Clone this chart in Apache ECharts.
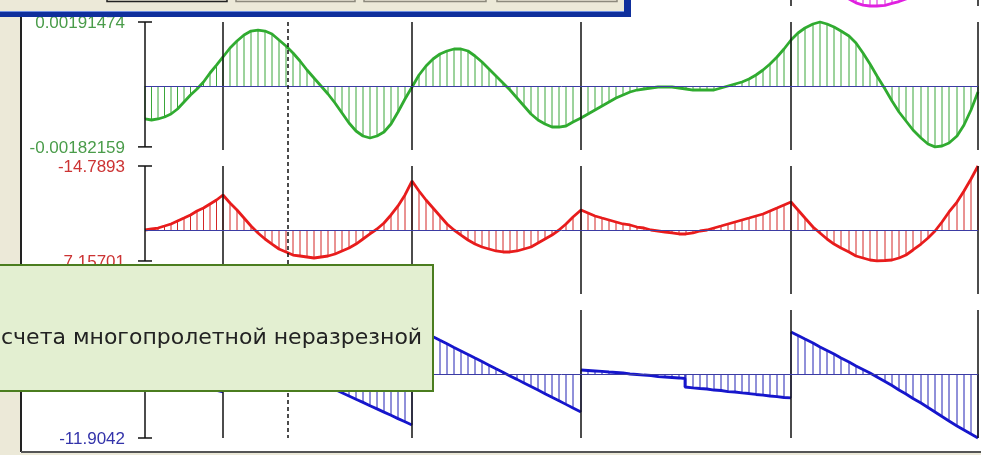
<!DOCTYPE html>
<html>
<head>
<meta charset="utf-8">
<script src="https://cdn.jsdelivr.net/npm/echarts@6/dist/echarts.min.js"></script>
<style>
  html, body { margin: 0; padding: 0; background: #fff; }
  #main { width: 981px; height: 455px; }
</style>
</head>
<body>
<div id="main"></div>
<script>
// положение опор и сечения (по длине балки)
const supports = [0, 78, 267, 436, 646, 833];
const section = 143;

// точки штриховки (общие для углов поворота и моментов)
const stations = [0, 6.5, 13, 19.5, 26, 32.5, 39, 45.5, 52, 58.5, 65, 71.5, 78,
  85, 92, 99, 106, 113, 120, 127, 134, 141, 148, 155, 162, 169, 176, 183, 190, 197, 204, 211, 218, 225, 232, 239, 246, 253, 260, 267,
  274, 281, 288, 295, 302, 309, 316, 323, 330, 337, 344, 351, 358, 365, 372, 379, 386, 393, 400, 407, 414, 421, 428, 436,
  443, 450, 457, 464, 471, 478, 485, 492, 499, 506, 513, 520, 527, 534, 541, 548, 555, 562, 569, 576, 583, 590, 597, 604, 611, 618, 625, 632, 639, 646,
  653, 660, 668, 675, 682, 689, 696, 704, 711, 718, 725, 732, 740, 747, 754, 761, 768, 776, 783, 790, 797, 804, 812, 819, 826, 833];

// углы поворота (зелёная эпюра)
const rotation = [-0.000987, -0.001017, -0.000987, -0.000927, -0.000838, -0.000688, -0.000479, -0.000269, -0.000090, 0.000120, 0.000389, 0.000628, 0.000868,
  0.001137, 0.001346, 0.001526, 0.001645, 0.001675, 0.001645, 0.001556, 0.001376, 0.001197, 0.000987, 0.000748, 0.000479, 0.000239, 0,
  -0.000239, -0.000509, -0.000808, -0.001107, -0.001346, -0.001496, -0.001556, -0.001496, -0.001376, -0.001137, -0.000778, -0.000389, -0.000030,
  0.000329, 0.000598, 0.000808, 0.000957, 0.001047, 0.001107, 0.001107, 0.001047, 0.000898, 0.000718, 0.000509, 0.000299, 0.000090,
  -0.000120, -0.000359, -0.000598, -0.000838, -0.001017, -0.001137, -0.001227, -0.001227, -0.001197, -0.001077, -0.000957,
  -0.000838, -0.000718, -0.000598, -0.000479, -0.000359, -0.000269, -0.000180, -0.000120, -0.000090, -0.000060, -0.000030, -0.000030, -0.000030,
  -0.000060, -0.000090, -0.000120, -0.000120, -0.000120, -0.000120, -0.000060, 0, 0.000060, 0.000120, 0.000209, 0.000329, 0.000479, 0.000658,
  0.000868, 0.001107, 0.001376,
  0.001586, 0.001735, 0.001855, 0.00191474, 0.001855, 0.001765, 0.001645, 0.001496, 0.001286, 0.000987, 0.000658, 0.000299, -0.000090,
  -0.000449, -0.000778, -0.001047, -0.001316, -0.001556, -0.001735, -0.00182159, -0.001795, -0.001705, -0.001496, -0.001167, -0.000718, -0.000180];

// изгибающие моменты (красная эпюра, отрицательные вверх)
const moment = [0, -0.23, -0.46, -0.92, -1.39, -2.08, -2.77, -3.47, -4.39, -5.08, -6.01, -6.93, -8.09,
  -6.24, -4.62, -2.77, -0.92, 0.69, 2.08, 3.24, 4.39, 5.08, 5.78, 6.01, 6.24, 6.47, 6.24, 6.01, 5.55, 4.85, 4.16, 3.24, 2.08, 0.92, -0.23,
  -1.62, -3.47, -5.55, -8.09, -11.32,
  -9.01, -6.93, -5.08, -3.24, -1.39, 0, 1.16, 2.31, 3.24, 3.93, 4.39, 4.85, 5.08, 5.08, 4.85, 4.39, 3.93, 3.00, 2.08, 1.16, 0, -1.39, -3.00, -4.62,
  -3.93, -3.24, -2.77, -2.31, -1.85, -1.39, -1.16, -0.69, -0.46, 0, 0.23, 0.46, 0.69, 0.92, 0.92, 0.69, 0.23, 0, -0.46, -0.92, -1.39, -1.85,
  -2.31, -2.77, -3.24, -3.70, -4.39, -5.08, -5.78, -6.47,
  -4.62, -2.77, -0.69, 0.69, 2.08, 3.24, 4.16, 5.08, 6.01, 6.47, 6.93, 7.15701, 7.05, 6.93, 6.47, 5.78, 4.62, 3.24, 1.85, 0.23, -1.85, -4.16,
  -6.47, -9.01, -11.79, -14.7893];

// поперечные силы (синяя эпюра), по пролётам
const shearStations = [
  [0, 6.5, 13, 19.5, 26, 32.5, 39, 45.5, 52, 58.5, 65, 71.5, 78],
  [78, 85, 92, 99, 106, 113, 120, 127, 134, 141, 148, 155, 162, 169, 176, 183, 190, 197, 204, 211, 218, 225, 232, 239, 246, 253, 260, 267],
  [267, 274, 281, 288, 295, 302, 309, 316, 323, 330, 337, 344, 351, 358, 365, 372, 379, 386, 393, 400, 407, 414, 421, 428, 436],
  [436, 443, 450, 457, 464, 471, 478, 485, 492, 499, 506, 513, 520, 527, 534, 540, 540, 541, 548, 555, 562, 569, 576, 583, 590, 597, 604,
    611, 618, 625, 632, 639, 646],
  [646, 653, 660, 668, 675, 682, 689, 696, 704, 711, 718, 725, 732, 740, 747, 754, 761, 768, 776, 783, 790, 797, 804, 812, 819, 826, 833]
];
const shearValues = [
  [0, -0.28, -0.56, -0.84, -1.12, -1.40, -1.67, -1.95, -2.23, -2.51, -2.79, -3.07, -3.35],
  [6.70, 6.10, 5.51, 4.89, 4.30, 3.70, 3.11, 2.49, 1.90, 1.30, 0.71, 0.11, -0.50, -1.10, -1.69, -2.29, -2.90, -3.50, -4.09, -4.69, -5.28,
    -5.90, -6.49, -7.09, -7.68, -8.30, -8.89, -9.49],
  [8.93, 8.26, 7.61, 6.94, 6.27, 5.62, 4.95, 4.30, 3.63, 2.96, 2.31, 1.64, 0.97, 0.32, -0.35, -1.00, -1.67, -2.34, -2.99, -3.66, -4.33,
    -4.98, -5.65, -6.31, -7.07],
  [0.74, 0.65, 0.56, 0.47, 0.37, 0.28, 0.19, 0.00, -0.09, -0.19, -0.28, -0.47, -0.56, -0.65, -0.74, -0.84, -2.42, -2.45, -2.60, -2.70, -2.79,
    -2.98, -3.07, -3.26, -3.35, -3.53, -3.63, -3.81, -3.91, -4.09, -4.19, -4.37, -4.46],
  [7.81, 7.16, 6.51, 5.77, 5.02, 4.37, 3.72, 2.98, 2.23, 1.49, 0.84, 0.19, -0.56, -1.40, -2.14, -2.98, -3.72, -4.56, -5.39, -6.23, -7.07,
    -7.91, -8.74, -9.67, -10.42, -11.16, -11.9042]
];

// прогибы (видна только нижняя часть в последнем пролёте)
const deflStations = [646, 653, 660, 668, 675, 682, 689, 696, 704, 711, 718, 725, 732, 740, 747, 754, 761, 768, 776, 783, 790, 797, 804, 812, 819, 826, 833];
const deflection = [0, -0.10, -0.20, -0.33, -0.45, -0.57, -0.69, -0.80, -0.89, -0.95, -0.985, -1.0, -1.0, -0.99, -0.96, -0.93, -0.89, -0.82,
  -0.72, -0.60, -0.48, -0.36, -0.25, -0.15, -0.07, -0.02, 0];

const rotationTicks = [0.00191474, -0.00182159];
const momentTicks = [-14.7893, 7.15701];
const shearTicks = [8.93, -11.9042];
const caption = 'счета многопролетной неразрезной';

const chart = echarts.init(document.getElementById('main'));

function zip(xs, ys) {
  return xs.map((x, i) => [x, ys[i]]);
}

// сетки: верхняя (прогибы) видна только нижним краем
const grids = [
  { left: 145, right: 3, top: 0, height: 6 },
  { left: 145, right: 3, top: 22, height: 128 },
  { left: 145, right: 3, top: 166, height: 128 },
  { left: 145, right: 3, top: 310, height: 128 }
];
const yRanges = [[-1, -0.906], [-0.00191474, 0.00191474], [-14.7893, 14.7893], [-11.9042, 11.9042]];
const inverse = [false, false, true, false];

const xAxes = grids.map((g, i) => ({ type: 'value', gridIndex: i, min: 0, max: 833, show: false }));
const yAxes = grids.map((g, i) => ({
  type: 'value', gridIndex: i, min: yRanges[i][0], max: yRanges[i][1], inverse: inverse[i], show: false
}));

// штриховка: вертикальная черта от нуля до ординаты
function hatch(idx, data, color) {
  return {
    type: 'custom', xAxisIndex: idx, yAxisIndex: idx, z: 2, silent: true, clip: false,
    data: data,
    renderItem: function (params, api) {
      const x = api.value(0), v = api.value(1);
      const a = api.coord([x, 0]);
      const b = api.coord([x, v]);
      return { type: 'line', shape: { x1: a[0], y1: a[1], x2: b[0], y2: b[1] }, style: { stroke: color, lineWidth: 1 } };
    }
  };
}

function curve(idx, data, color) {
  return {
    type: 'line', xAxisIndex: idx, yAxisIndex: idx, z: 4, silent: true, clip: false,
    data: data, symbol: 'none', connectNulls: false,
    lineStyle: { color: color, width: 2.8 }
  };
}

// опоры и нулевая линия
function frame(idx, withBase) {
  const lines = supports.slice(1).map(s => ({ xAxis: s, lineStyle: { color: '#111', width: 1.5, type: 'solid' } }));
  if (withBase) lines.push({ yAxis: 0, lineStyle: { color: '#3b3ba3', width: 1, type: 'solid' } });
  return {
    type: 'line', xAxisIndex: idx, yAxisIndex: idx, z: 3, silent: true,
    data: [], symbol: 'none',
    markLine: { silent: true, symbol: ['none', 'none'], label: { show: false }, animation: false, data: lines }
  };
}

// ось с метками максимума и минимума
function axis(idx, ticks, color) {
  return {
    type: 'custom', xAxisIndex: idx, yAxisIndex: idx, z: 5, silent: true, clip: false,
    data: ticks.map(t => [0, t]),
    renderItem: function (params, api) {
      const i = params.dataIndex;
      const p = api.coord([api.value(0), api.value(1)]);
      const children = [
        { type: 'line', shape: { x1: p[0] - 7, y1: p[1], x2: p[0] + 7, y2: p[1] }, style: { stroke: '#111', lineWidth: 1.5 } },
        { type: 'text', x: p[0] - 20, y: p[1] + 1, style: {
          text: String(ticks[i]), fill: color, font: '17px "Liberation Sans", Arial, sans-serif',
          align: 'right', verticalAlign: 'middle' } }
      ];
      if (i === 0) {
        const q = api.coord([0, ticks[1]]);
        children.push({ type: 'line', shape: { x1: p[0], y1: p[1], x2: q[0], y2: q[1] }, style: { stroke: '#111', lineWidth: 1.5 } });
      }
      return { type: 'group', children: children };
    }
  };
}

const rotData = zip(stations, rotation);
const momData = zip(stations, moment);
let shearData = [];
let shearLine = [];
shearStations.forEach((xs, k) => {
  const part = zip(xs, shearValues[k]);
  shearData = shearData.concat(part);
  if (k > 0) shearLine.push(null);
  shearLine = shearLine.concat(part);
});
const deflData = zip(deflStations, deflection);

const series = [
  frame(0, false), hatch(0, deflData, '#d81fd8'), curve(0, deflData, '#e020e0'),
  frame(1, true), hatch(1, rotData, '#3aa63a'), curve(1, rotData, '#30ab30'), axis(1, rotationTicks, '#4a9c4a'),
  frame(2, true), hatch(2, momData, '#d42626'), curve(2, momData, '#e81c1c'), axis(2, momentTicks, '#cc3333'),
  frame(3, true), hatch(3, shearData, '#2222b4'), curve(3, shearLine, '#1616cc'), axis(3, shearTicks, '#3333aa')
];

chart.setOption({
  backgroundColor: '#ffffff',
  animation: false,
  grid: grids,
  xAxis: xAxes,
  yAxis: yAxes,
  series: series
});

// сечение (пунктир через все эпюры)
const sx = chart.convertToPixel({ xAxisIndex: 1 }, section);
const sy1 = chart.convertToPixel({ yAxisIndex: 1 }, rotationTicks[0]);
const sy2 = chart.convertToPixel({ yAxisIndex: 3 }, shearTicks[1]);

const buttons = [[107, 227, '#222'], [236, 355, '#8c897c'], [364, 486, '#8c897c'], [497, 617, '#8c897c']];

chart.setOption({
  graphic: [
    { type: 'line', z: 6, shape: { x1: sx, y1: sy1, x2: sx, y2: sy2 }, style: { stroke: '#111', lineWidth: 1.5, lineDash: [4, 3] } },
    // рамка окна
    { type: 'rect', z: 50, shape: { x: 0, y: 0, width: 20, height: 455 }, style: { fill: '#ece9d8' } },
    { type: 'line', z: 51, shape: { x1: 21, y1: 17, x2: 21, y2: 452 }, style: { stroke: '#222', lineWidth: 2 } },
    { type: 'rect', z: 50, shape: { x: 0, y: 453, width: 981, height: 3 }, style: { fill: '#ece9d8' } },
    { type: 'line', z: 51, shape: { x1: 21, y1: 452, x2: 981, y2: 452 }, style: { stroke: '#555', lineWidth: 2 } },
    // диалог сверху
    { type: 'rect', z: 60, shape: { x: 0, y: 0, width: 631, height: 17 }, style: { fill: '#0f2f9c' } },
    { type: 'rect', z: 61, shape: { x: 0, y: 0, width: 624, height: 11 }, style: { fill: '#ece9d8' } },
    { type: 'line', z: 61, shape: { x1: 0, y1: 11.5, x2: 624, y2: 11.5 }, style: { stroke: '#6f8fe4', lineWidth: 1 } }
  ].concat(buttons.map(b => ({
    type: 'rect', z: 62, shape: { x: b[0], y: -20, width: b[1] - b[0], height: 21.5 },
    style: { fill: '#ece9d8', stroke: b[2], lineWidth: 1.5 }
  }))).concat([
    // всплывающая подсказка
    { type: 'rect', z: 70, shape: { x: -2, y: 265, width: 435, height: 126 }, style: { fill: '#e3efd1', stroke: '#4b7d1f', lineWidth: 2 } },
    { type: 'text', z: 71, x: 1, y: 338, style: {
      text: caption, fill: '#222', font: '22px "DejaVu Sans", sans-serif', align: 'left', verticalAlign: 'middle' } }
  ])
});
</script>
</body>
</html>
